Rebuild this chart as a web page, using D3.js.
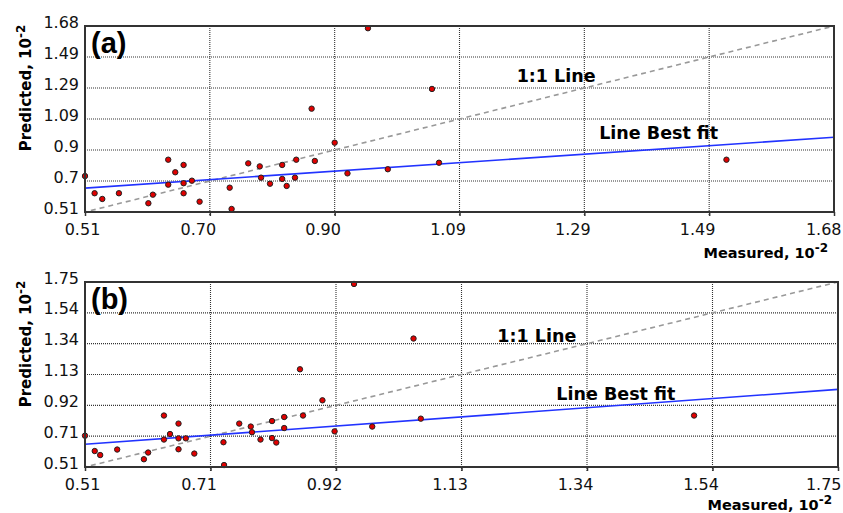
<!DOCTYPE html>
<html>
<head>
<meta charset="utf-8">
<script src="https://cdnjs.cloudflare.com/ajax/libs/d3/7.8.5/d3.min.js"></script>
<style>
body { margin: 0; background: #fff; }
svg { display: block; font-family: "DejaVu Sans", sans-serif; }
</style>
</head>
<body>
<svg width="843" height="513"></svg>
<script>
/**********************
* data *
**********************/

/* panel (a) */
var measuredA  = [0.51, 0.525, 0.537, 0.563, 0.609, 0.616, 0.640, 0.640, 0.651, 0.664, 0.664, 0.664,
                  0.677, 0.689, 0.736, 0.739, 0.765, 0.783, 0.785, 0.799, 0.818, 0.818, 0.825, 0.838,
                  0.840, 0.864, 0.869, 0.900, 0.920, 0.952, 0.983, 1.052, 1.063, 1.512]
var predictedA = [0.736, 0.628, 0.592, 0.628, 0.565, 0.619, 0.839, 0.682, 0.760, 0.806, 0.691, 0.628,
                  0.707, 0.575, 0.663, 0.529, 0.816, 0.797, 0.726, 0.688, 0.806, 0.718, 0.674, 0.726,
                  0.839, 1.160, 0.831, 0.946, 0.753, 1.666, 0.779, 1.284, 0.820, 0.839]
var xLabelsA = ["0.51", "0.70", "0.90", "1.09", "1.29", "1.49", "1.68"]
var yLabelsA = ["0.51", "0.7", "0.9", "1.09", "1.29", "1.49", "1.68"]
var fitA = [0.66, 0.98]   // predicted value of the best fit at both ends

/* panel (b) */
var measuredB  = [0.51, 0.526, 0.535, 0.563, 0.607, 0.614, 0.640, 0.640, 0.650, 0.664, 0.664, 0.664,
                  0.676, 0.690, 0.738, 0.739, 0.764, 0.783, 0.785, 0.799, 0.818, 0.818, 0.825, 0.838,
                  0.838, 0.864, 0.869, 0.901, 0.921, 0.953, 0.983, 1.051, 1.063, 1.513]
var predictedB = [0.720, 0.617, 0.590, 0.627, 0.562, 0.607, 0.855, 0.694, 0.731, 0.801, 0.702, 0.629,
                  0.702, 0.600, 0.676, 0.523, 0.801, 0.781, 0.743, 0.694, 0.818, 0.704, 0.674, 0.771,
                  0.845, 1.165, 0.855, 0.957, 0.749, 1.737, 0.781, 1.371, 0.834, 0.855]
var xLabelsB = ["0.51", "0.71", "0.92", "1.13", "1.34", "1.54", "1.75"]
var yLabelsB = ["0.51", "0.71", "0.92", "1.13", "1.34", "1.54", "1.75"]
var fitB = [0.662, 1.03]

/* layout of the two panels (pixels, and label spots as fractions of the plot) */
var panels = [
    {tag: "(a)", xs: measuredA, ys: predictedA, xl: xLabelsA, yl: yLabelsA, fit: fitA,
     min: 0.51, max: 1.68, left: 85, right: 834, top: 26, bottom: 212,
     oneX: 0.629, oneY: 0.699, fitX: 0.766, fitDy: -10},
    {tag: "(b)", xs: measuredB, ys: predictedB, xl: xLabelsB, yl: yLabelsB, fit: fitB,
     min: 0.51, max: 1.75, left: 85, right: 838, top: 282, bottom: 467,
     oneX: 0.600, oneY: 0.676, fitX: 0.705, fitDy: -6}
]

var svg = d3.select("svg")

/**********************
* draw one panel *
**********************/
function draw_panel(p) {
    var x = d3.scaleLinear().domain([p.min, p.max]).range([p.left, p.right])
    var y = d3.scaleLinear().domain([p.min, p.max]).range([p.bottom, p.top])
    var span = p.max - p.min
    var ticks = d3.range(7).map(function(i) { return p.min + i * span / 6 })

    var g = svg.append("g")

    /* dotted grid */
    g.selectAll(".vgrid").data(ticks.slice(1, 6)).enter()
        .append("line")
        .attr("x1", x).attr("x2", x)
        .attr("y1", p.top).attr("y2", p.bottom + 4)
        .attr("stroke", "#333").attr("stroke-width", 1.1)
        .attr("stroke-dasharray", "1,1")
    g.selectAll(".hgrid").data(ticks.slice(1, 6)).enter()
        .append("line")
        .attr("x1", p.left).attr("x2", p.right)
        .attr("y1", y).attr("y2", y)
        .attr("stroke", "#333").attr("stroke-width", 1.1)
        .attr("stroke-dasharray", "1,1")

    /* x axis labels */
    var xAxis = d3.axisBottom(x).tickValues(ticks)
        .tickFormat(function(d, i) { return p.xl[i] })
        .tickSize(4).tickPadding(8)
    var ax = g.append("g").attr("transform", "translate(0," + p.bottom + ")").call(xAxis)
    ax.select(".domain").remove()
    ax.selectAll("line").attr("stroke", "#333").attr("stroke-width", 1.5)
    ax.selectAll("text")
        .attr("font-size", 16).attr("font-family", "'DejaVu Sans', sans-serif")
        .attr("fill", "#111")
        .attr("text-anchor", function(d, i) { return i == 6 ? "end" : "middle" })
        .attr("dx", function(d, i) { return i == 0 ? -3 : (i == 6 ? 841 - p.right : -12) })

    /* y axis labels */
    var yAxis = d3.axisLeft(y).tickValues(ticks)
        .tickFormat(function(d, i) { return p.yl[i] })
        .tickSize(0).tickPadding(6)
    var ay = g.append("g").attr("transform", "translate(" + p.left + ",0)").call(yAxis)
    ay.select(".domain").remove()
    ay.selectAll("text")
        .attr("font-size", 16).attr("font-family", "'DejaVu Sans', sans-serif")
        .attr("fill", "#111").attr("dy", 1)

    /* 1:1 line */
    var line = d3.line().x(function(d) { return x(d[0]) }).y(function(d) { return y(d[1]) })
    g.append("path")
        .datum([[p.min, p.min], [p.max, p.max]])
        .attr("d", line)
        .attr("fill", "none").attr("stroke", "#999").attr("stroke-width", 1.6)
        .attr("stroke-dasharray", "5,4").attr("stroke-dashoffset", -6)

    /* best fit */
    g.append("path")
        .datum([[p.min, p.fit[0]], [p.max, p.fit[1]]])
        .attr("d", line)
        .attr("fill", "none").attr("stroke", "#2233ff").attr("stroke-width", 1.6)

    /* points */
    g.selectAll("circle").data(p.xs).enter()
        .append("circle")
        .attr("cx", function(d) { return x(d) })
        .attr("cy", function(d, i) { return y(p.ys[i]) })
        .attr("r", 2.7)
        .attr("fill", "#e00000").attr("stroke", "#222").attr("stroke-width", 1)

    /* frame */
    g.append("rect")
        .attr("x", p.left).attr("y", p.top)
        .attr("width", p.right - p.left).attr("height", p.bottom - p.top)
        .attr("fill", "none").attr("stroke", "#333").attr("stroke-width", 2)

    /* texts */
    g.append("text").text(p.tag)
        .attr("x", p.left + 6).attr("y", p.top + 27)
        .attr("font-family", "Arial, 'Liberation Sans', sans-serif")
        .attr("font-size", 29).attr("font-weight", "bold")

    g.append("text").text("1:1 Line")
        .attr("x", x(p.min + p.oneX * span)).attr("y", y(p.min + p.oneY * span))
        .attr("text-anchor", "middle")
        .attr("font-size", 17.5).attr("font-weight", "bold")

    var fx = p.min + p.fitX * span
    var fy = p.fit[0] + (p.fit[1] - p.fit[0]) * p.fitX
    g.append("text").text("Line Best fit")
        .attr("x", x(fx)).attr("y", y(fy) + p.fitDy)
        .attr("text-anchor", "middle")
        .attr("font-size", 17.5).attr("font-weight", "bold")

    /* axis titles */
    var xt = g.append("text")
        .attr("x", p.right - 6).attr("y", Math.min(p.bottom + 46, 510))
        .attr("text-anchor", "end")
        .attr("font-size", 14.5).attr("font-weight", "bold")
    xt.append("tspan").text("Measured, 10")
    xt.append("tspan").text("-2").attr("font-size", 12).attr("dy", -6)

    var yt = g.append("text")
        .attr("transform", "translate(31," + (p.top + 62) + ") rotate(-90)")
        .attr("text-anchor", "middle")
        .attr("font-size", 15).attr("font-weight", "bold")
    yt.append("tspan").text("Predicted, 10")
    yt.append("tspan").text("-2").attr("font-size", 12).attr("dy", -6)
}

/**********************
* main *
**********************/
panels.forEach(draw_panel)
</script>
</body>
</html>
